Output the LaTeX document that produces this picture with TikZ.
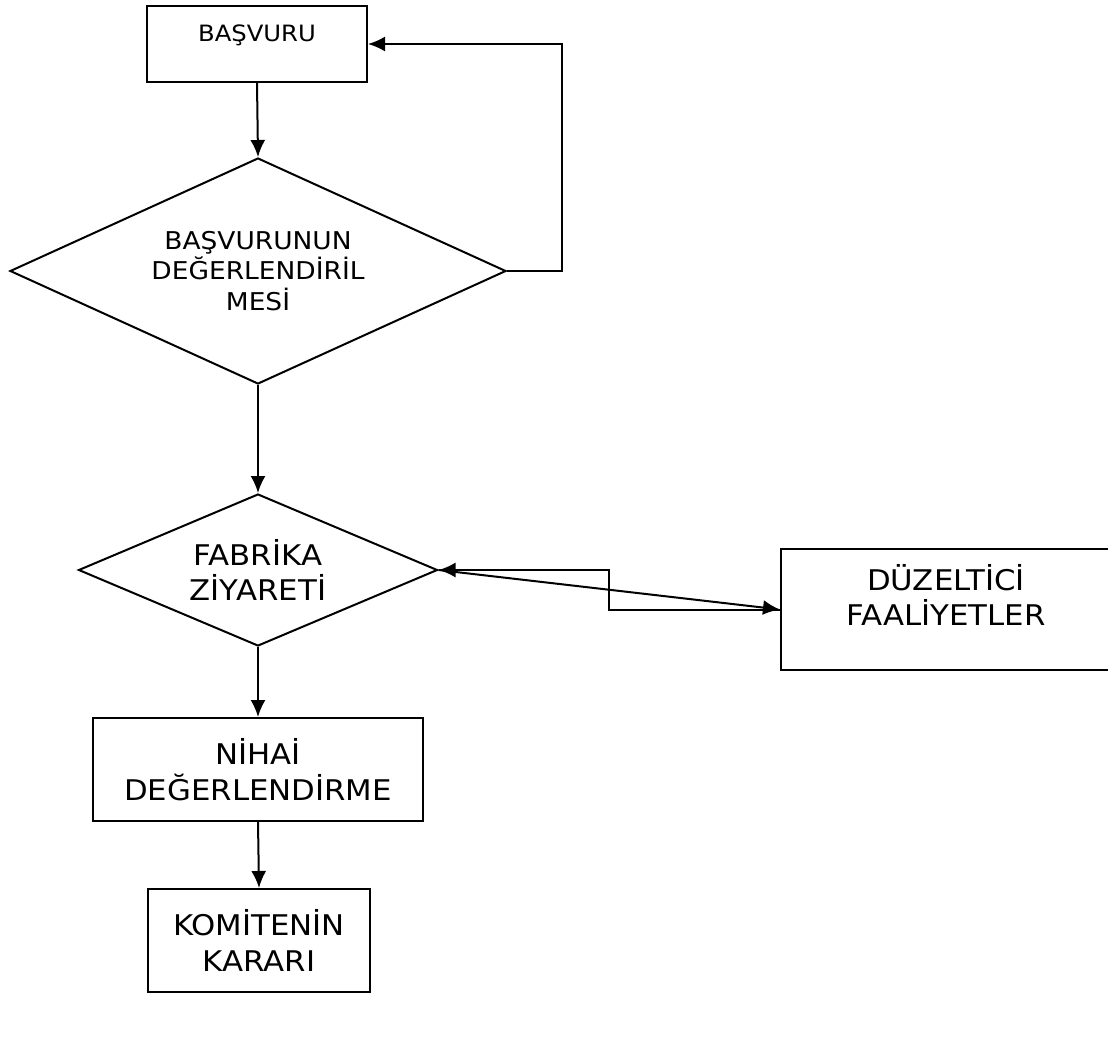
\documentclass[tikz,border=0pt]{standalone}
\usepackage{fontspec}
\setmainfont{DejaVu Sans}[FakeStretch=1.08]
\usepackage{tikz}
\usetikzlibrary{shapes,arrows.meta,positioning}
\tikzstyle{stepbox} = [draw, line width=2pt, text centered, align=center, inner sep=0pt, font=\fontsize{28.5}{35.5}\selectfont]
\tikzstyle{decision} = [draw, diamond, aspect=2.2, line width=2pt, text centered, align=center, inner sep=0pt, font=\fontsize{28.5}{35.5}\selectfont]
\tikzstyle{arrow} = [draw, line width=2pt, color=black, -{Latex[length=17pt,width=15pt]}]
\newcommand{\stepbox}[3]{node (s#1) [stepbox,#2] {#3}}
\newcommand{\decide}[3]{node (q#1) [decision,#2] {#3}}

\begin{document}
\begin{tikzpicture}[x=1pt,y=-1pt]
\useasboundingbox (0,0) rectangle (1108,1053);
\path (257,44) \stepbox{1}{minimum width=220pt, text height=35pt, text depth=41pt, font=\fontsize{22.5}{28}\selectfont}{BAŞVURU};
\path (s1)+(1,227) \decide{1}{minimum width=496pt, minimum height=226pt, font=\fontsize{24.5}{30.5}\selectfont}{BAŞVURUNUN\\DEĞERLENDİRİL\\MESİ};
\path [arrow] (s1.south) -- (q1.north) node[] {};
\path [arrow] (q1.east) -- ++(55,0) |- (s1.east) node[] {};

\path (q1)+(0,299) \decide{2}{minimum width=359pt, minimum height=152pt}{FABRİKA\\ZİYARETİ};
\path [arrow] (q1.south) -- (q2.north) node[] {};

\path (q2)+(0,199.5) \stepbox{2}{minimum width=330pt, minimum height=103pt}{NİHAİ\\DEĞERLENDİRME};
\path [arrow] (q2.south) -- (s2.north) node[] {};
\path (s2)+(1,171) \stepbox{3}{minimum width=222pt, minimum height=103pt}{KOMİTENİN\\KARARI};
\path [arrow] (s2.south) -- (s3.north) node[] {};

\path (q2)+(688,39.5) \stepbox{4}{minimum width=330pt, text height=76.5pt, text depth=44.5pt}{DÜZELTİCİ\\FAALİYETLER};
\path [arrow] (q2.east) -- (s4.west) node[] {};
\path [arrow] (s4.west) -- ++(-171,0) |- (q2.east) node[] {};
\end{tikzpicture}
\end{document}
